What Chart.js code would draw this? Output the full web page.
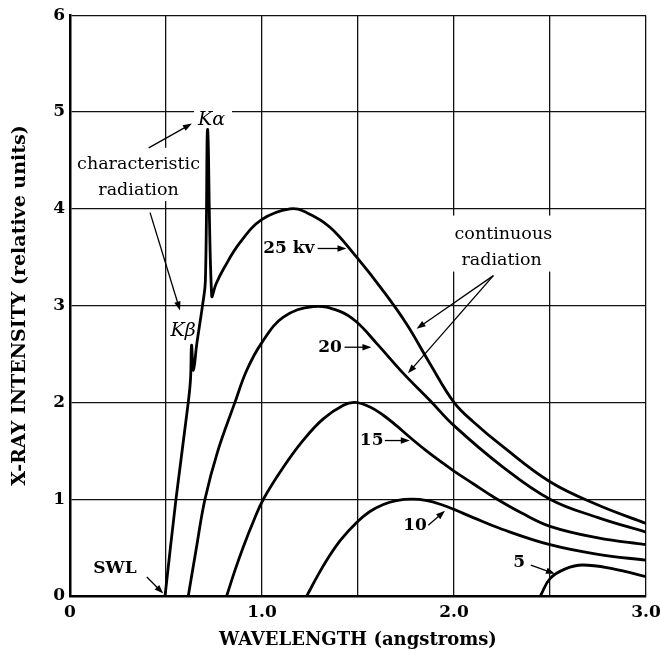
<!DOCTYPE html>
<html>
<head>
<meta charset="utf-8">
<script src="https://cdn.jsdelivr.net/npm/chart.js@4.4.1/dist/chart.umd.min.js"></script>
<style>
    html, body { margin: 0; padding: 0; background: #fff; }
</style>
</head>
<body>
<canvas id="xray" width="660" height="651"></canvas>
<script>
// wavelength (angstroms) / intensity pairs
const kv25X = [0.495, 0.552, 0.616, 0.628, 0.633, 0.643, 0.66, 0.69, 0.705, 0.717, 0.738, 0.76, 0.80, 0.885, 1.0, 1.146, 1.233, 1.354, 1.493, 1.632, 1.753, 1.875, 2.0, 2.1, 2.25, 2.5, 2.75, 3.0];
const kv25Y = [0, 1, 2, 2.25, 2.59, 2.33, 2.6, 3.0, 3.25, 4.82, 3.1, 3.22, 3.38, 3.65, 3.89, 4.0, 3.96, 3.81, 3.50, 3.15, 2.81, 2.40, 2.0, 1.80, 1.55, 1.18, 0.94, 0.75];

const kv20X = [0.616, 0.656, 0.703, 0.77, 0.859, 0.92, 1.0, 1.111, 1.267, 1.406, 1.493, 1.597, 1.736, 1.875, 2.0, 2.25, 2.5, 2.75, 3.0];
const kv20Y = [0, 0.47, 1.0, 1.5, 2.0, 2.33, 2.62, 2.88, 2.99, 2.94, 2.83, 2.61, 2.30, 2.02, 1.76, 1.34, 1.0, 0.81, 0.66];

const kv15X = [0.816, 0.86, 0.903, 0.955, 1.007, 1.111, 1.215, 1.319, 1.424, 1.484, 1.56, 1.63, 1.70, 1.77, 1.85, 1.93, 2.0, 2.1, 2.2, 2.35, 2.5, 2.75, 3.0];
const kv15Y = [0, 0.27, 0.51, 0.77, 1.0, 1.33, 1.61, 1.83, 1.97, 2.0, 1.955, 1.87, 1.76, 1.64, 1.51, 1.39, 1.29, 1.16, 1.03, 0.86, 0.72, 0.6, 0.53];

const kv10X = [1.233, 1.29, 1.337, 1.41, 1.493, 1.56, 1.632, 1.70, 1.78, 1.86, 1.94, 2.0, 2.1, 2.25, 2.5, 2.75, 3.0];
const kv10Y = [0, 0.21, 0.37, 0.58, 0.76, 0.87, 0.945, 0.985, 1.0, 0.985, 0.94, 0.895, 0.81, 0.69, 0.53, 0.43, 0.37];

const kv5X = [2.45, 2.5, 2.58, 2.67, 2.83, 3.0];
const kv5Y = [0, 0.18, 0.28, 0.32, 0.28, 0.2];

const seriesNames = ['25 kv', '20 kv', '15 kv', '10 kv', '5 kv'];
const xTickLabels = {0: '0', 1: '1.0', 2: '2.0', 3: '3.0'};
const yTicks = [0, 1, 2, 3, 4, 5, 6];

const serif = '"DejaVu Serif", "Liberation Serif", serif';

function pts(xs, ys) {
    return xs.map((x, i) => ({x: x, y: ys[i]}));
}

function arrow(ctx, x1, y1, x2, y2) {
    let a = Math.atan2(y2 - y1, x2 - x1);
    let h = 9, w = 3.2;
    ctx.beginPath();
    ctx.moveTo(x1, y1);
    ctx.lineTo(x2 - Math.cos(a) * h * 0.8, y2 - Math.sin(a) * h * 0.8);
    ctx.stroke();
    ctx.beginPath();
    ctx.moveTo(x2, y2);
    ctx.lineTo(x2 - Math.cos(a) * h - Math.sin(a) * w, y2 - Math.sin(a) * h + Math.cos(a) * w);
    ctx.lineTo(x2 - Math.cos(a) * h + Math.sin(a) * w, y2 - Math.sin(a) * h - Math.cos(a) * w);
    ctx.closePath();
    ctx.fill();
}

const notes = {
    id: 'notes',
    beforeDraw(chart) {
        let c = chart.ctx;
        c.save();
        c.fillStyle = '#fff';
        c.fillRect(0, 0, chart.width, chart.height);
        c.restore();
    },
    afterDatasetsDraw(chart) {
        let c = chart.ctx;
        let xs = chart.scales.x, ys = chart.scales.y;
        let X = v => xs.getPixelForValue(v);
        let Y = v => ys.getPixelForValue(v);

        c.save();
        c.strokeStyle = '#000';
        c.lineWidth = 1.3;
        c.textAlign = 'center';
        c.textBaseline = 'middle';

        // white patches where the labels cut the grid
        c.fillStyle = '#fff';
        c.fillRect(X(0.745) - 19, Y(5.06), 38, 14);
        c.fillRect(X(0.02), Y(4.63), X(0.69) - X(0.02), Y(4.08) - Y(4.63));
        c.fillRect(X(2.257) - 54, Y(3.93), 108, 56);
        c.fillStyle = '#000';

        c.font = 'italic 19px ' + serif;
        c.fillText('Kα', X(0.737), Y(4.92));
        c.fillText('Kβ', X(0.589), Y(2.74));

        c.font = '17.5px ' + serif;
        c.fillText('characteristic', X(0.357), Y(4.46));
        c.fillText('radiation', X(0.357), Y(4.19));
        c.fillText('continuous', X(2.257), Y(3.74));
        c.fillText('radiation', X(2.248), Y(3.464));

        c.font = 'bold 17px ' + serif;
        c.fillText(seriesNames[0], X(1.14), Y(3.59));
        c.fillText('20', X(1.354), Y(2.57));
        c.fillText('15', X(1.571), Y(1.606));
        c.fillText('10', X(1.797), Y(0.73));
        c.fillText('5', X(2.339), Y(0.341));
        c.fillText('SWL', X(0.234), Y(0.283));

        arrow(c, X(0.41), Y(4.63), X(0.635), Y(4.88));
        arrow(c, X(0.417), Y(3.96), X(0.573), Y(2.95));
        arrow(c, X(1.29), Y(3.59), X(1.44), Y(3.59));
        arrow(c, X(1.43), Y(2.57), X(1.57), Y(2.57));
        arrow(c, X(1.64), Y(1.606), X(1.77), Y(1.606));
        arrow(c, X(1.866), Y(0.73), X(1.953), Y(0.88));
        arrow(c, X(2.40), Y(0.32), X(2.526), Y(0.23));
        arrow(c, X(0.40), Y(0.196), X(0.486), Y(0.025));
        arrow(c, X(2.205), Y(3.31), X(1.805), Y(2.76));
        arrow(c, X(2.205), Y(3.31), X(1.76), Y(2.30));
        c.restore();
    }
};

let ctx = document.getElementById('xray').getContext('2d');

let lineStyle = {
    borderColor: '#000',
    borderWidth: 2.8,
    pointRadius: 0,
    fill: false,
    showLine: true,
    tension: 0.4
};

let xrayChart = new Chart(ctx, {
    type: 'scatter',
    data: {
        datasets: [
            Object.assign({label: seriesNames[0], data: pts(kv25X, kv25Y)}, lineStyle),
            Object.assign({label: seriesNames[1], data: pts(kv20X, kv20Y)}, lineStyle),
            Object.assign({label: seriesNames[2], data: pts(kv15X, kv15Y)}, lineStyle),
            Object.assign({label: seriesNames[3], data: pts(kv10X, kv10Y)}, lineStyle),
            Object.assign({label: seriesNames[4], data: pts(kv5X, kv5Y)}, lineStyle)
        ]
    },
    options: {
        responsive: false,
        animation: false,
        layout: { padding: { top: 14, right: 14, left: 0, bottom: 0 } },
        plugins: {
            legend: { display: false },
            tooltip: { enabled: false }
        },
        scales: {
            x: {
                type: 'linear',
                min: 0,
                max: 3,
                afterFit: s => { s.height = 55; s.paddingRight = 0; s.paddingLeft = 0; },
                grid: { color: '#111', lineWidth: 1.3, drawTicks: false },
                border: { color: '#000', width: 2.5 },
                ticks: {
                    stepSize: 0.5,
                    padding: 6,
                    color: '#000',
                    font: { family: serif, size: 17, weight: 'bold' },
                    callback: v => xTickLabels[v] !== undefined ? xTickLabels[v] : ''
                },
                title: {
                    display: true,
                    text: 'WAVELENGTH (angstroms)',
                    color: '#000',
                    padding: { top: 0, bottom: 0 },
                    font: { family: serif, size: 18, weight: 'bold' }
                }
            },
            y: {
                type: 'linear',
                min: 0,
                max: 6,
                afterFit: s => { s.width = 70; },
                afterBuildTicks: s => { s.ticks = yTicks.map(v => ({value: v})); },
                grid: { color: '#111', lineWidth: 1.3, drawTicks: false },
                border: { color: '#000', width: 2.5 },
                ticks: {
                    padding: 5,
                    color: '#000',
                    font: { family: serif, size: 17, weight: 'bold' },
                    callback: v => String(v)
                },
                title: {
                    display: true,
                    text: 'X-RAY INTENSITY (relative units)',
                    color: '#000',
                    padding: { top: 9, bottom: 0 },
                    font: { family: serif, size: 19, weight: 'bold' }
                }
            }
        }
    },
    plugins: [notes]
});
</script>
</body>
</html>
